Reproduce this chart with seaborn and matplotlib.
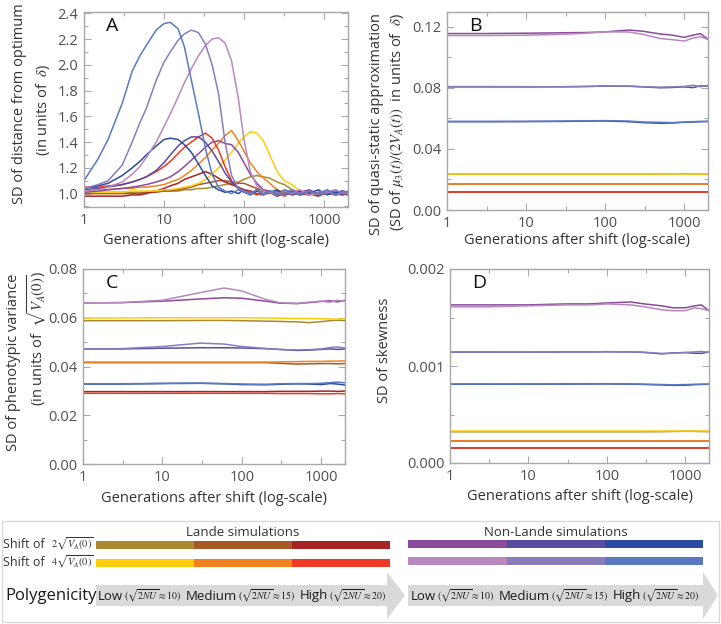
import numpy as np
import pandas as pd
import matplotlib
matplotlib.use("Agg")
import matplotlib.pyplot as plt
from matplotlib.patches import Rectangle, Polygon
from matplotlib.ticker import FixedLocator, FixedFormatter, NullFormatter, MultipleLocator, FormatStrFormatter
import seaborn as sns

sns.set_theme(style="ticks")
plt.rcParams['font.family'] = ['Open Sans', 'DejaVu Sans']
plt.rcParams['mathtext.fontset'] = 'stix'

W, H = 721, 624

# ---------------- series / colours ----------------
SERIES = ["L2_low", "L2_med", "L2_high", "L4_low", "L4_med", "L4_high",
          "N2_low", "N2_med", "N2_high", "N4_low", "N4_med", "N4_high"]
COLORS = ["#AA8A2E", "#A85A26", "#A82424", "#FFCC0A", "#F58220", "#EE3A24",
          "#8B4A9B", "#5A4C9E", "#2B4C9E", "#B888BE", "#8A7DBE", "#5B79C0"]
PALETTE = dict(zip(SERIES, COLORS))

# ---------------- panel A ----------------
GEN_A = [1, 1.5, 2, 3, 4, 5, 6, 8, 10, 12, 15, 18, 22, 27, 33, 40, 48, 58, 70, 85,
         100, 120, 145, 175, 210, 260, 320, 400, 500, 650, 850, 1100, 1400, 1700, 2000]
A_L2_LOW = [1.01, 1.01, 1.01, 1.01, 1.01, 1.01, 1.01, 1.02, 1.02, 1.02, 1.02, 1.03, 1.03, 1.04, 1.04, 1.05, 1.06, 1.07, 1.08, 1.09,
            1.11, 1.13, 1.14, 1.13, 1.12, 1.09, 1.07, 1.03, 1.01, 1.00, 0.99, 1.01, 1.00, 0.99, 1.01]
A_L2_MED = [1.00, 1.00, 1.00, 1.00, 1.00, 1.00, 1.01, 1.01, 1.02, 1.02, 1.03, 1.04, 1.05, 1.07, 1.08, 1.09, 1.10, 1.10, 1.09, 1.08,
            1.08, 1.06, 1.04, 1.02, 1.01, 1.00, 1.01, 0.99, 1.00, 1.01, 0.99, 1.00, 1.01, 0.99, 1.00]
A_L2_HIGH = [0.98, 0.98, 0.98, 0.98, 0.99, 0.99, 1.00, 1.02, 1.04, 1.06, 1.08, 1.11, 1.13, 1.15, 1.17, 1.15, 1.12, 1.09, 1.07, 1.05,
             1.03, 1.02, 1.00, 0.99, 1.01, 0.98, 1.00, 1.01, 0.99, 1.00, 0.98, 1.01, 0.99, 1.00, 0.99]
A_L4_LOW = [1.01, 1.01, 1.01, 1.01, 1.02, 1.02, 1.02, 1.02, 1.03, 1.03, 1.04, 1.05, 1.06, 1.08, 1.11, 1.15, 1.20, 1.26, 1.32, 1.39,
            1.44, 1.48, 1.47, 1.41, 1.30, 1.17, 1.10, 1.07, 1.02, 0.99, 1.00, 1.01, 0.99, 1.00, 1.01]
A_L4_MED = [1.03, 1.03, 1.03, 1.04, 1.04, 1.05, 1.05, 1.06, 1.07, 1.09, 1.11, 1.14, 1.18, 1.23, 1.28, 1.34, 1.39, 1.45, 1.49, 1.41,
            1.33, 1.24, 1.17, 1.12, 1.08, 1.03, 1.01, 1.00, 1.02, 0.99, 1.01, 1.00, 0.99, 1.01, 1.00]
A_L4_HIGH = [1.05, 1.05, 1.06, 1.07, 1.09, 1.11, 1.13, 1.17, 1.21, 1.25, 1.31, 1.36, 1.40, 1.44, 1.47, 1.43, 1.34, 1.21, 1.10, 1.04,
             1.02, 1.01, 0.99, 1.02, 1.00, 1.01, 0.98, 1.02, 1.00, 0.99, 1.01, 1.02, 0.99, 1.00, 1.01]
A_N2_LOW = [1.01, 1.02, 1.03, 1.04, 1.05, 1.06, 1.07, 1.09, 1.11, 1.13, 1.17, 1.21, 1.26, 1.31, 1.36, 1.40, 1.41, 1.39, 1.38, 1.32,
            1.24, 1.15, 1.08, 1.03, 1.02, 1.00, 1.02, 0.99, 1.01, 1.03, 1.00, 1.01, 0.99, 1.02, 1.01]
A_N2_MED = [1.03, 1.04, 1.05, 1.07, 1.09, 1.11, 1.13, 1.18, 1.24, 1.30, 1.37, 1.41, 1.44, 1.44, 1.40, 1.33, 1.25, 1.16, 1.09, 1.04,
            1.02, 1.00, 1.03, 0.99, 1.01, 1.02, 1.00, 1.03, 0.99, 1.01, 1.00, 1.02, 1.01, 0.99, 1.02]
A_N2_HIGH = [1.04, 1.06, 1.08, 1.14, 1.20, 1.25, 1.30, 1.37, 1.42, 1.43, 1.42, 1.38, 1.32, 1.23, 1.14, 1.06, 1.03, 1.01, 1.02, 1.00,
             1.03, 0.99, 1.02, 1.00, 1.01, 1.03, 0.99, 1.01, 1.02, 1.00, 1.03, 0.99, 1.01, 1.02, 1.00]
A_N4_LOW = [1.02, 1.03, 1.05, 1.09, 1.15, 1.21, 1.28, 1.40, 1.52, 1.62, 1.75, 1.86, 1.97, 2.07, 2.15, 2.20, 2.21, 2.17, 2.03, 1.74,
            1.42, 1.17, 1.06, 1.02, 1.01, 0.99, 1.02, 1.00, 1.03, 0.99, 1.01, 1.02, 0.99, 1.01, 1.00]
A_N4_MED = [1.04, 1.07, 1.10, 1.22, 1.40, 1.55, 1.66, 1.88, 2.02, 2.10, 2.19, 2.24, 2.27, 2.25, 2.16, 2.00, 1.78, 1.40, 1.14, 1.04,
            1.02, 1.00, 1.03, 0.99, 1.02, 1.01, 0.99, 1.03, 1.00, 1.02, 0.99, 1.01, 1.03, 1.00, 1.02]
A_N4_HIGH = [1.10, 1.27, 1.42, 1.70, 1.95, 2.07, 2.15, 2.27, 2.32, 2.33, 2.28, 2.14, 1.88, 1.62, 1.35, 1.15, 1.05, 1.02, 1.00, 1.03,
             1.01, 0.99, 1.03, 1.00, 1.02, 0.99, 1.03, 1.01, 0.99, 1.02, 1.00, 1.03, 0.99, 1.02, 1.01]

# ---------------- panels B, C, D ----------------
GEN_F = [1, 3, 10, 30, 60, 100, 200, 300, 500, 700, 1000, 1300, 1600, 2000]

B_L2_LOW = [0.0234, 0.0234, 0.0234, 0.0234, 0.0234, 0.0234, 0.0234, 0.0234, 0.0235, 0.0236, 0.0237, 0.0236, 0.0235, 0.0235]
B_L2_MED = [0.0167, 0.0167, 0.0167, 0.0167, 0.0167, 0.0167, 0.0167, 0.0167, 0.0167, 0.0167, 0.0167, 0.0167, 0.0167, 0.0167]
B_L2_HIGH = [0.0117, 0.0117, 0.0117, 0.0117, 0.0117, 0.0117, 0.0117, 0.0117, 0.0117, 0.0117, 0.0117, 0.0117, 0.0117, 0.0117]
B_L4_LOW = [0.0236, 0.0236, 0.0236, 0.0236, 0.0236, 0.0236, 0.0236, 0.0236, 0.0236, 0.0236, 0.0236, 0.0236, 0.0236, 0.0236]
B_L4_MED = [0.0169, 0.0169, 0.0169, 0.0169, 0.0169, 0.0169, 0.0169, 0.0169, 0.0169, 0.0169, 0.0169, 0.0169, 0.0169, 0.0169]
B_L4_HIGH = [0.0119, 0.0119, 0.0119, 0.0119, 0.0119, 0.0119, 0.0119, 0.0119, 0.0119, 0.0119, 0.0119, 0.0119, 0.0119, 0.0119]
B_N2_LOW = [0.1155, 0.1155, 0.1157, 0.1160, 0.1162, 0.1166, 0.1178, 0.1170, 0.1152, 0.1145, 0.1130, 0.1145, 0.1154, 0.1118]
B_N2_MED = [0.0806, 0.0806, 0.0806, 0.0807, 0.0809, 0.0811, 0.0810, 0.0806, 0.0800, 0.0802, 0.0806, 0.0801, 0.0813, 0.0810]
B_N2_HIGH = [0.0578, 0.0578, 0.0579, 0.0580, 0.0582, 0.0583, 0.0578, 0.0572, 0.0568, 0.0570, 0.0574, 0.0576, 0.0578, 0.0580]
B_N4_LOW = [0.1142, 0.1142, 0.1144, 0.1150, 0.1158, 0.1166, 0.1165, 0.1150, 0.1122, 0.1115, 0.1106, 0.1125, 0.1134, 0.1116]
B_N4_MED = [0.0808, 0.0808, 0.0807, 0.0806, 0.0808, 0.0812, 0.0811, 0.0807, 0.0804, 0.0806, 0.0809, 0.0816, 0.0807, 0.0815]
B_N4_HIGH = [0.0580, 0.0580, 0.0580, 0.0582, 0.0584, 0.0585, 0.0582, 0.0576, 0.0574, 0.0572, 0.0575, 0.0578, 0.0580, 0.0579]

C_L2_LOW = [0.0588, 0.0588, 0.0588, 0.0589, 0.0589, 0.0588, 0.0586, 0.0585, 0.0583, 0.0580, 0.0584, 0.0588, 0.0590, 0.0588]
C_L2_MED = [0.0416, 0.0416, 0.0416, 0.0416, 0.0416, 0.0416, 0.0416, 0.0413, 0.0410, 0.0411, 0.0412, 0.0412, 0.0411, 0.0412]
C_L2_HIGH = [0.0297, 0.0297, 0.0297, 0.0297, 0.0297, 0.0297, 0.0297, 0.0298, 0.0298, 0.0298, 0.0299, 0.0299, 0.0298, 0.0299]
C_L4_LOW = [0.0599, 0.0599, 0.0600, 0.0600, 0.0600, 0.0600, 0.0599, 0.0598, 0.0597, 0.0597, 0.0596, 0.0595, 0.0594, 0.0596]
C_L4_MED = [0.0418, 0.0418, 0.0418, 0.0418, 0.0418, 0.0418, 0.0418, 0.0419, 0.0420, 0.0421, 0.0421, 0.0422, 0.0422, 0.0423]
C_L4_HIGH = [0.0290, 0.0290, 0.0290, 0.0290, 0.0290, 0.0290, 0.0290, 0.0289, 0.0289, 0.0289, 0.0288, 0.0288, 0.0289, 0.0288]
C_N2_LOW = [0.0661, 0.0662, 0.0668, 0.0677, 0.0682, 0.0680, 0.0668, 0.0660, 0.0658, 0.0662, 0.0667, 0.0670, 0.0665, 0.0672]
C_N2_MED = [0.0472, 0.0472, 0.0475, 0.0477, 0.0477, 0.0476, 0.0473, 0.0470, 0.0466, 0.0467, 0.0470, 0.0472, 0.0470, 0.0472]
C_N2_HIGH = [0.0328, 0.0328, 0.0330, 0.0331, 0.0329, 0.0326, 0.0325, 0.0327, 0.0329, 0.0328, 0.0326, 0.0330, 0.0328, 0.0324]
C_N4_LOW = [0.0661, 0.0662, 0.0672, 0.0703, 0.0722, 0.0710, 0.0675, 0.0662, 0.0659, 0.0664, 0.0668, 0.0663, 0.0672, 0.0668]
C_N4_MED = [0.0472, 0.0473, 0.0482, 0.0496, 0.0492, 0.0482, 0.0474, 0.0470, 0.0468, 0.0469, 0.0472, 0.0478, 0.0480, 0.0476]
C_N4_HIGH = [0.0329, 0.0329, 0.0331, 0.0332, 0.0330, 0.0328, 0.0327, 0.0329, 0.0330, 0.0330, 0.0331, 0.0334, 0.0336, 0.0333]

D_L2_LOW = [0.000322, 0.000322, 0.000322, 0.000322, 0.000322, 0.000322, 0.000322, 0.000322, 0.000323, 0.000325, 0.000327, 0.000326, 0.000324, 0.000323]
D_L2_MED = [0.000228, 0.000228, 0.000228, 0.000228, 0.000228, 0.000228, 0.000228, 0.000228, 0.000228, 0.000228, 0.000228, 0.000228, 0.000228, 0.000228]
D_L2_HIGH = [0.000157, 0.000157, 0.000157, 0.000157, 0.000157, 0.000157, 0.000157, 0.000157, 0.000157, 0.000157, 0.000157, 0.000157, 0.000157, 0.000157]
D_L4_LOW = [0.000326, 0.000326, 0.000326, 0.000326, 0.000326, 0.000326, 0.000326, 0.000326, 0.000326, 0.000326, 0.000326, 0.000326, 0.000326, 0.000326]
D_L4_MED = [0.000230, 0.000230, 0.000230, 0.000230, 0.000230, 0.000230, 0.000230, 0.000230, 0.000230, 0.000230, 0.000230, 0.000230, 0.000230, 0.000230]
D_L4_HIGH = [0.000158, 0.000158, 0.000158, 0.000158, 0.000158, 0.000158, 0.000158, 0.000158, 0.000158, 0.000158, 0.000158, 0.000158, 0.000158, 0.000158]
D_N2_LOW = [0.00163, 0.00163, 0.00163, 0.00164, 0.00164, 0.00165, 0.00166, 0.00164, 0.00162, 0.00160, 0.00160, 0.00162, 0.00163, 0.00157]
D_N2_MED = [0.001143, 0.001143, 0.001143, 0.001145, 0.001145, 0.001147, 0.001145, 0.001140, 0.001125, 0.001135, 0.001138, 0.001132, 0.001130, 0.001145]
D_N2_HIGH = [0.000812, 0.000812, 0.000813, 0.000814, 0.000815, 0.000816, 0.000813, 0.000810, 0.000805, 0.000800, 0.000802, 0.000808, 0.000810, 0.000812]
D_N4_LOW = [0.00161, 0.00161, 0.00162, 0.00163, 0.00163, 0.00164, 0.00163, 0.00161, 0.00158, 0.00157, 0.00157, 0.00160, 0.00159, 0.00157]
D_N4_MED = [0.001145, 0.001145, 0.001144, 0.001146, 0.001146, 0.001148, 0.001146, 0.001141, 0.001130, 0.001132, 0.001140, 0.001145, 0.001150, 0.001140]
D_N4_HIGH = [0.000814, 0.000814, 0.000814, 0.000815, 0.000816, 0.000817, 0.000815, 0.000812, 0.000809, 0.000806, 0.000808, 0.000811, 0.000812, 0.000814]

# ---------------- text ----------------
X_TICKS = [1, 10, 100, 1000]
X_TICK_LABELS = ["1", "10", "100", "1000"]
X_LABEL = "Generations after shift (log-scale)"
PANEL_LETTERS = ["A", "B", "C", "D"]
POLY_WORDS = ["Low", "Medium", "High"]
POLY_MATH = [r"$(\sqrt{2NU}\approx 10)$", r"$(\sqrt{2NU}\approx 15)$", r"$(\sqrt{2NU}\approx 20)$"]


def long_df(gens, lists):
    rows = []
    for name, vals in zip(SERIES, lists):
        for g, v in zip(gens, vals):
            rows.append((g, v, name))
    return pd.DataFrame(rows, columns=["gen", "value", "series"])


df_A = long_df(GEN_A, [A_L2_LOW, A_L2_MED, A_L2_HIGH, A_L4_LOW, A_L4_MED, A_L4_HIGH,
                       A_N2_LOW, A_N2_MED, A_N2_HIGH, A_N4_LOW, A_N4_MED, A_N4_HIGH])
df_B = long_df(GEN_F, [B_L2_LOW, B_L2_MED, B_L2_HIGH, B_L4_LOW, B_L4_MED, B_L4_HIGH,
                       B_N2_LOW, B_N2_MED, B_N2_HIGH, B_N4_LOW, B_N4_MED, B_N4_HIGH])
df_C = long_df(GEN_F, [C_L2_LOW, C_L2_MED, C_L2_HIGH, C_L4_LOW, C_L4_MED, C_L4_HIGH,
                       C_N2_LOW, C_N2_MED, C_N2_HIGH, C_N4_LOW, C_N4_MED, C_N4_HIGH])
df_D = long_df(GEN_F, [D_L2_LOW, D_L2_MED, D_L2_HIGH, D_L4_LOW, D_L4_MED, D_L4_HIGH,
                       D_N2_LOW, D_N2_MED, D_N2_HIGH, D_N4_LOW, D_N4_MED, D_N4_HIGH])

fig = plt.figure(figsize=(W / 100, H / 100), dpi=100)


def px_axes(l, t, r, b):
    return fig.add_axes([l / W, 1 - b / H, (r - l) / W, (b - t) / H])


axA = px_axes(84, 12, 348, 207)
axB = px_axes(447, 12, 708, 210)
axC = px_axes(83, 269, 345, 464)
axD = px_axes(450, 269, 709, 463)

SPINE = "#A8A8A8"
for ax, df in zip([axA, axB, axC, axD], [df_A, df_B, df_C, df_D]):
    sns.lineplot(data=df, x="gen", y="value", hue="series", hue_order=SERIES,
                 palette=PALETTE, estimator=None, sort=False, legend=False,
                 ax=ax, linewidth=1.1)
    ax.set_xscale("log")
    ax.set_xlim(1, 2000)
    ax.xaxis.set_major_locator(FixedLocator(X_TICKS))
    ax.xaxis.set_major_formatter(FixedFormatter(X_TICK_LABELS))
    ax.xaxis.set_minor_locator(FixedLocator([3.16, 31.6, 316]))
    ax.xaxis.set_minor_formatter(NullFormatter())
    ax.set_xlabel("")
    ax.set_ylabel("")
    for s in ax.spines.values():
        s.set_visible(True)
        s.set_color(SPINE)
        s.set_linewidth(1.0)
    ax.tick_params(which="both", direction="in", top=True, right=True,
                   color=SPINE, labelcolor="#505050", labelsize=10.5, pad=4)
    ax.tick_params(which="major", length=5, width=0.8)
    ax.tick_params(which="minor", length=3, width=0.8)

axA.set_ylim(0.896, 2.41)
axA.yaxis.set_major_locator(MultipleLocator(0.2))
axA.yaxis.set_minor_locator(MultipleLocator(0.1))
axA.yaxis.set_major_formatter(FormatStrFormatter("%.1f"))

axB.set_ylim(0, 0.1296)
axB.yaxis.set_major_locator(MultipleLocator(0.04))
axB.yaxis.set_minor_locator(MultipleLocator(0.02))
axB.yaxis.set_major_formatter(FormatStrFormatter("%.2f"))

axC.set_ylim(0, 0.08)
axC.yaxis.set_major_locator(MultipleLocator(0.02))
axC.yaxis.set_minor_locator(MultipleLocator(0.01))
axC.yaxis.set_major_formatter(FormatStrFormatter("%.2f"))

axD.set_ylim(0, 0.002)
axD.yaxis.set_major_locator(MultipleLocator(0.001))
axD.yaxis.set_minor_locator(MultipleLocator(0.0005))
axD.yaxis.set_major_formatter(FormatStrFormatter("%.3f"))

for ax, letter in zip([axA, axB, axC, axD], PANEL_LETTERS):
    ax.text(0.085, 0.93, letter, transform=ax.transAxes, fontsize=14,
            color="#111111", ha="left", va="center")


def ftext(x, y, s, **kw):
    kw.setdefault("color", "#333333")
    return fig.text(x / W, 1 - y / H, s, **kw)


# x labels
for cx, y in [(216, 240), (577, 241), (214, 498), (580, 497)]:
    ftext(cx, y, X_LABEL, ha="center", va="center", fontsize=10.5)

# y labels
ylab = dict(rotation=90, ha="center", va="center", fontsize=10.5)
ftext(20, 104, "SD of distance from optimum", **ylab)
ftext(43, 110, r"(in units of  $\delta$)", **ylab)
ftext(377, 124, "SD of quasi-static approximation", **ylab)
ftext(397, 122, r"(SD of $\mu_3(t)/(2V_A(t))$  in units of  $\delta$)", **ylab)
ftext(14, 362, "SD of phenotypic variance", **ylab)
ftext(37, 338, r"(in units of  $\sqrt{V_A(0)}$)", **ylab)
ftext(384, 350, "SD of skewness", **ylab)

# ---------------- legend panel ----------------
lg = fig.add_axes([0, 0, 1, 1], zorder=-5)
lg.set_xlim(0, W)
lg.set_ylim(H, 0)
lg.axis("off")
lg.add_patch(Rectangle((1.5, 521), 717, 100.5, facecolor="none", edgecolor="#DADADA", lw=1.0))

ftext(243, 533, "Lande simulations", ha="center", va="center", fontsize=9.5)
ftext(556, 533, "Non-Lande simulations", ha="center", va="center", fontsize=9.5)

SHIFT_LABELS = [r"$2\sqrt{V_A(0)}$", r"$4\sqrt{V_A(0)}$"]
ROW_Y_L = [(541, 549), (559, 567)]
ROW_Y_N = [(540, 548), (556.5, 565)]
SEG_L = [96, 194, 292, 390]
SEG_N = [408, 507, 605, 703]
for r in range(2):
    yc = (ROW_Y_L[r][0] + ROW_Y_L[r][1]) / 2
    ftext(3, yc, "Shift of", ha="left", va="center", fontsize=9)
    ftext(51, yc - 1, SHIFT_LABELS[r], ha="left", va="center", fontsize=7.5)
    for k in range(3):
        cL = COLORS[3 * r + k]
        cN = COLORS[6 + 3 * r + k]
        y0, y1 = ROW_Y_L[r]
        lg.add_patch(Rectangle((SEG_L[k], y0), SEG_L[k + 1] - SEG_L[k], y1 - y0, facecolor=cL, edgecolor="none"))
        y0, y1 = ROW_Y_N[r]
        lg.add_patch(Rectangle((SEG_N[k], y0), SEG_N[k + 1] - SEG_N[k], y1 - y0, facecolor=cN, edgecolor="none"))

ARROW = "#D9D9D9"
for (x0, xh, xt) in [(96, 387, 405), (408, 703, 718)]:
    lg.add_patch(Polygon([(x0, 585), (xh, 585), (xh, 572), (xt, 595.5), (xh, 619), (xh, 606), (x0, 606)],
                         closed=True, facecolor=ARROW, edgecolor="none"))

ftext(5, 596, "Polygenicity", ha="left", va="center", fontsize=12, color="#1a1a1a")
renderer = fig.canvas.get_renderer()
for x_start in [98, 411]:
    x = x_start
    for word, math in zip(POLY_WORDS, POLY_MATH):
        t = ftext(x, 596, word, ha="left", va="center", fontsize=9.5, color="#1a1a1a")
        x = t.get_window_extent(renderer=renderer).x1 + 0.5
        m = ftext(x, 596, math, ha="left", va="center", fontsize=7.0, color="#1a1a1a")
        x = m.get_window_extent(renderer=renderer).x1 + 5

fig.savefig("out.png", dpi=100)
